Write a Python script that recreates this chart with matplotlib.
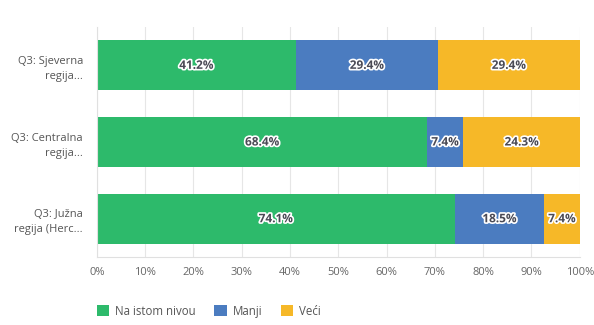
import numpy as np
import matplotlib.pyplot as plt
import matplotlib.patheffects as pe

plt.rcParams['font.family'] = ['Open Sans', 'DejaVu Sans']

categories = ['Q3: Sjeverna\nregija...', 'Q3: Centralna\nregija...', 'Q3: Južna\nregija (Herc...']
series = ['Na istom nivou', 'Manji', 'Veći']
na_istom = [41.2, 68.4, 74.1]
manji = [29.4, 7.4, 18.5]
veci = [29.4, 24.3, 7.4]
colors = ['#2dba6b', '#4b7cc0', '#f6b828']

fig = plt.figure(figsize=(5.94, 3.25), dpi=100)
ax = fig.add_axes([0.163, 0.209, 0.813, 0.708])

y = np.arange(len(categories))
left = np.zeros(len(categories))
for name, vals, c in zip(series, [na_istom, manji, veci], colors):
    bars = ax.barh(y, vals, left=left, height=0.65, color=c, label=name, zorder=2)
    for b, v in zip(bars, vals):
        ax.text(b.get_x() + b.get_width() / 2, b.get_y() + b.get_height() / 2,
                f'{v:.1f}%', ha='center', va='center', fontsize=8.5,
                fontweight='bold', color='#4a4a55', zorder=3,
                path_effects=[pe.withStroke(linewidth=2.4, foreground='white')])
    left += np.array(vals)

ax.set_ylim(2.5, -0.5)
ax.set_xlim(0, 100)
ax.set_yticks(y)
ax.set_yticklabels(categories, fontsize=8, color='#555555', linespacing=1.5)
ax.set_xticks(np.arange(0, 101, 10))
ax.set_xticklabels([f'{t}%' for t in range(0, 101, 10)], fontsize=8, color='#666666')
ax.tick_params(length=0, pad=7)
ax.tick_params(axis='y', pad=10)
ax.grid(axis='x', color='#e6e6e6', linewidth=0.8, zorder=0)
for s in ['top', 'right']:
    ax.spines[s].set_visible(False)
ax.spines['left'].set_color('#e0e0e0')
ax.spines['bottom'].set_color('#e0e0e0')

fig.legend(loc='lower left', bbox_to_anchor=(0.145, -0.01), ncol=3, frameon=False,
           fontsize=8.3, handlelength=1.1, handleheight=1.1, columnspacing=1.6,
           handletextpad=0.5, labelcolor='#555555')

plt.savefig('out.png', dpi=100)
